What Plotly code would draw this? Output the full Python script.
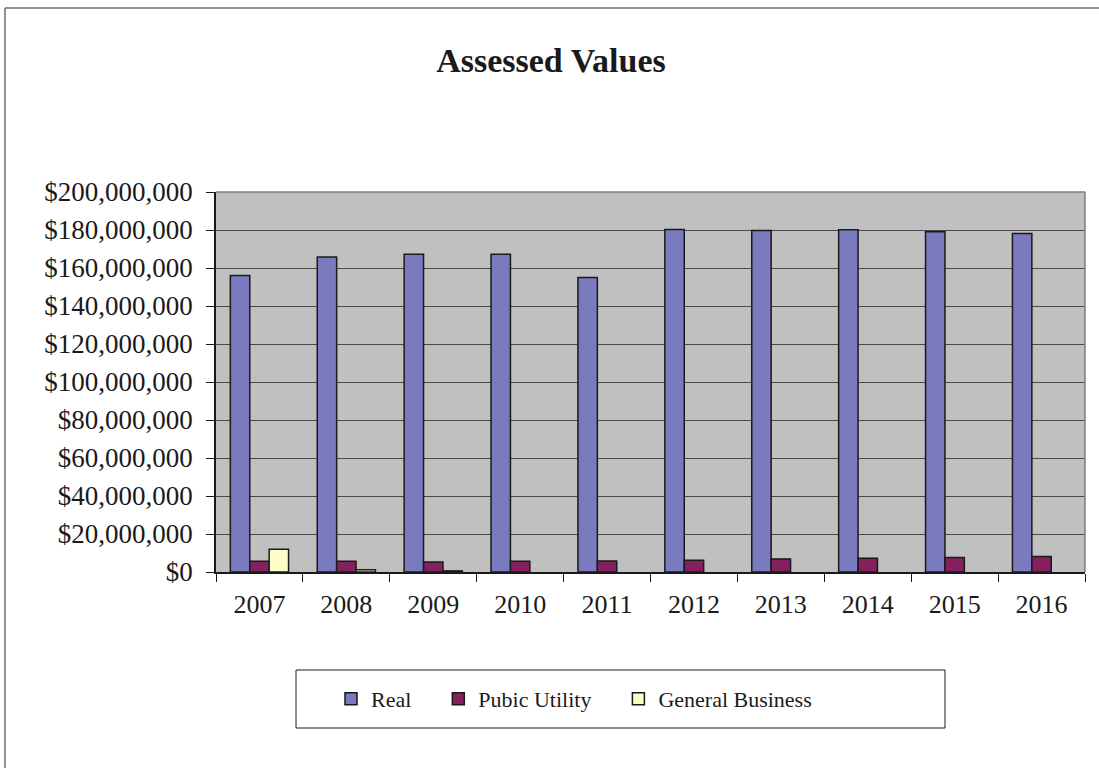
import plotly.graph_objects as go

years = ["2007", "2008", "2009", "2010", "2011", "2012", "2013", "2014", "2015", "2016"]
real = [156.0e6, 165.8e6, 167.2e6, 167.2e6, 155.0e6, 180.2e6, 179.7e6, 180.1e6, 179.1e6, 178.2e6]
public_utility = [5.6e6, 5.6e6, 5.3e6, 5.6e6, 5.8e6, 6.2e6, 6.9e6, 7.2e6, 7.6e6, 8.1e6]
general_business = [12.0e6, 1.2e6, 0.6e6, None, None, None, None, None, None, None]

tick_vals = [0, 20e6, 40e6, 60e6, 80e6, 100e6, 120e6, 140e6, 160e6, 180e6, 200e6]
tick_text = ["$0", "$20,000,000", "$40,000,000", "$60,000,000", "$80,000,000", "$100,000,000",
             "$120,000,000", "$140,000,000", "$160,000,000", "$180,000,000", "$200,000,000"]

W, H = 1099, 768
L, R, T, B = 216, 14, 192, 196
PW, PH = W - L - R, H - T - B

def px(x):
    return (x - L) / PW

def py(y):
    return (H - B - y) / PH

FONT = "Liberation Serif, Times New Roman, serif"
NB = "\u00a0" * 4

fig = go.Figure()
line = dict(color="#1a1a1a", width=1.5)
fig.add_trace(go.Bar(x=years, y=real, name="Real" + NB, marker=dict(color="#7a7abf", line=line)))
fig.add_trace(go.Bar(x=years, y=public_utility, name="Pubic Utility" + NB, marker=dict(color="#85205f", line=line)))
fig.add_trace(go.Bar(x=years, y=general_business, name="General Business", marker=dict(color="#fdfbc6", line=line)))

shapes = [
    dict(type="line", xref="paper", yref="paper", x0=px(5), x1=px(5), y0=py(8), y1=py(H + 5),
         line=dict(color="#6e6e6e", width=1.5)),
    dict(type="line", xref="paper", yref="paper", x0=px(5), x1=px(W + 5), y0=py(8), y1=py(8),
         line=dict(color="#6e6e6e", width=1.5)),
    dict(type="line", xref="paper", yref="paper", x0=0, x1=1, y0=1, y1=1,
         line=dict(color="#7f7f7f", width=1.5)),
    dict(type="line", xref="paper", yref="paper", x0=1, x1=1, y0=0, y1=1,
         line=dict(color="#7f7f7f", width=1.5)),
    dict(type="rect", xref="paper", yref="paper", x0=px(296), x1=px(945), y0=py(728), y1=py(670),
         line=dict(color="#1a1a1a", width=1), fillcolor="white", layer="below"),
]

fig.update_layout(
    width=W, height=H,
    margin=dict(l=L, r=R, t=T, b=B),
    paper_bgcolor="white",
    plot_bgcolor="#c0c0c0",
    font=dict(family=FONT, color="#1a1a1a"),
    title=dict(text="<b>Assessed Values</b>", xref="container", x=551 / W, xanchor="center",
               yref="container", y=1 - 60 / H, yanchor="middle",
               font=dict(family=FONT, size=34, color="#1a1a1a")),
    barmode="group",
    bargap=0.33,
    bargroupgap=0,
    showlegend=True,
    legend=dict(orientation="h", x=px(574), xanchor="center", y=py(699), yanchor="middle",
                font=dict(family=FONT, size=22, color="#1a1a1a"), bgcolor="rgba(0,0,0,0)",
                borderwidth=0, itemwidth=30),
    shapes=shapes,
    xaxis=dict(type="category", showline=True, linecolor="#1a1a1a", linewidth=1.5,
               ticks="outside", tickson="boundaries", ticklen=8, tickcolor="#1a1a1a", tickwidth=1,
               tickfont=dict(family=FONT, size=26, color="#1a1a1a"), ticklabelstandoff=8,
               showgrid=False, zeroline=False),
    yaxis=dict(range=[0, 200e6], tickvals=tick_vals, ticktext=tick_text,
               showline=True, linecolor="#1a1a1a", linewidth=1.5,
               ticks="outside", ticklen=8, tickcolor="#1a1a1a", tickwidth=1,
               tickfont=dict(family=FONT, size=27, color="#1a1a1a"), ticklabelstandoff=8,
               showgrid=True, gridcolor="#4a4a4a", gridwidth=1, zeroline=False),
)

fig.write_html("out.html", config={"displayModeBar": False},
               post_script="document.body.style.margin='0';document.body.style.overflow='hidden';")
